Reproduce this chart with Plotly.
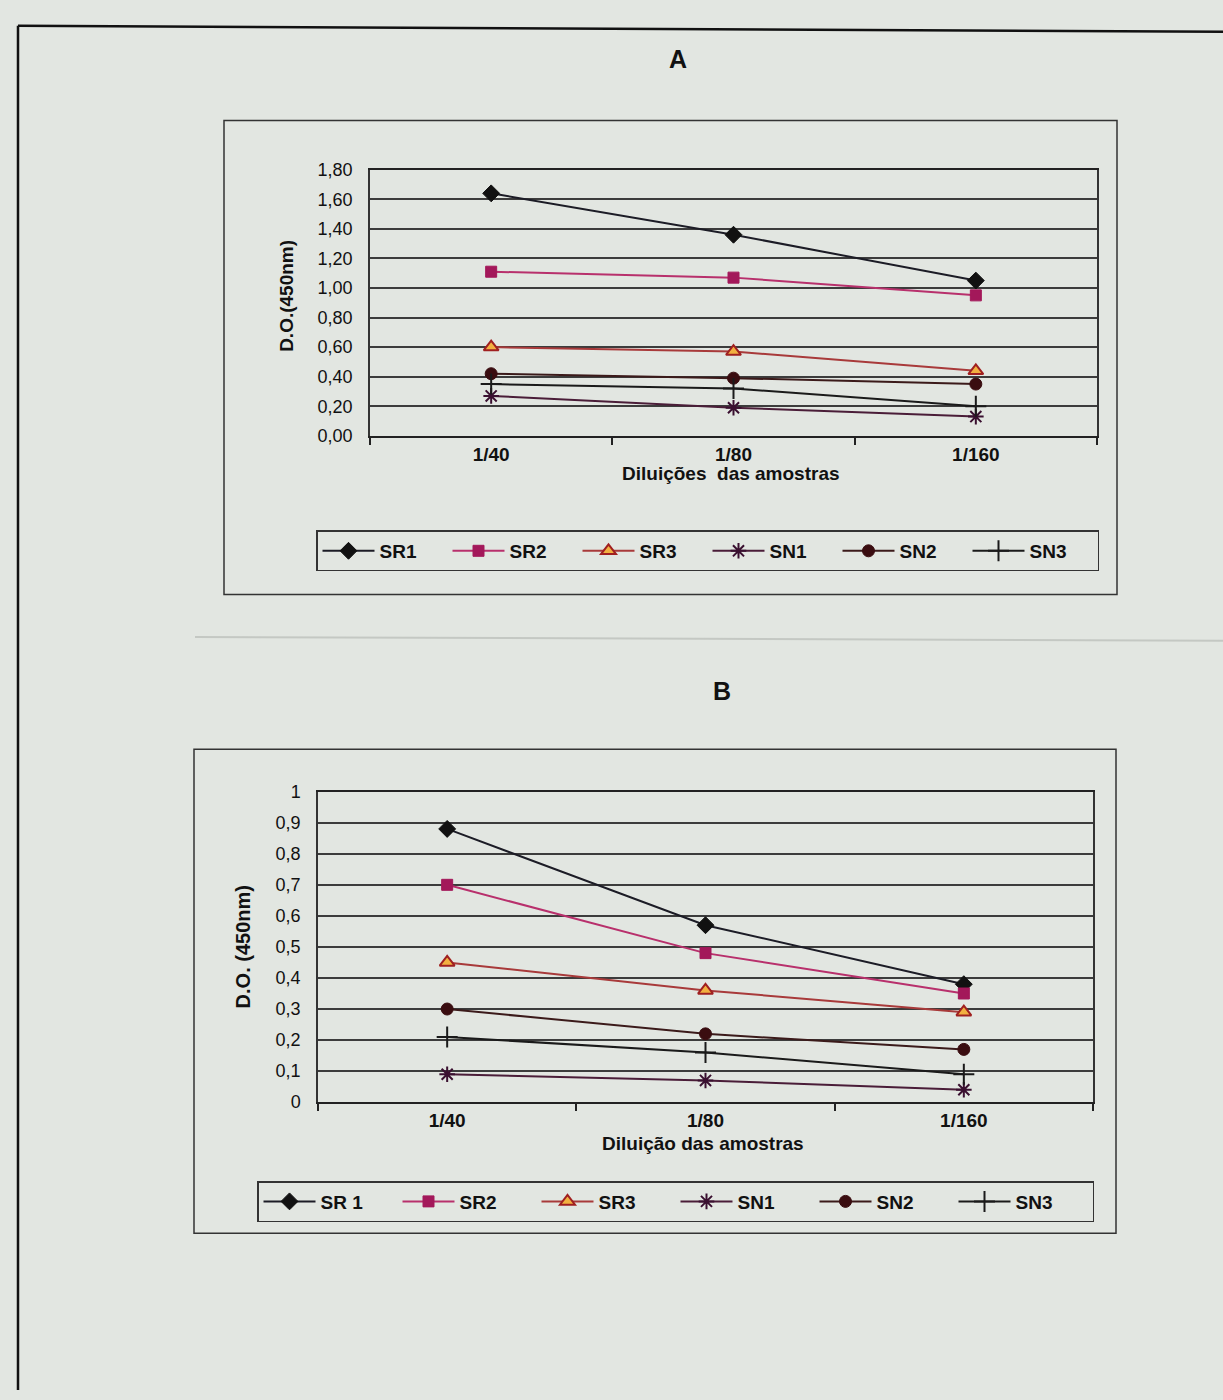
import plotly.graph_objects as go

# ---------------- data ----------------
categories = ["1/40", "1/80", "1/160"]

a_names = ["SR1", "SR2", "SR3", "SN1", "SN2", "SN3"]
a_sr1 = [1.64, 1.36, 1.05]
a_sr2 = [1.11, 1.07, 0.95]
a_sr3 = [0.60, 0.57, 0.44]
a_sn1 = [0.27, 0.19, 0.13]
a_sn2 = [0.42, 0.39, 0.35]
a_sn3 = [0.35, 0.32, 0.20]

b_names = ["SR 1", "SR2", "SR3", "SN1", "SN2", "SN3"]
b_sr1 = [0.88, 0.57, 0.38]
b_sr2 = [0.70, 0.48, 0.35]
b_sr3 = [0.45, 0.36, 0.29]
b_sn1 = [0.09, 0.07, 0.04]
b_sn2 = [0.30, 0.22, 0.17]
b_sn3 = [0.21, 0.16, 0.09]

a_yticks = [0.0, 0.2, 0.4, 0.6, 0.8, 1.0, 1.2, 1.4, 1.6, 1.8]
a_yticktext = ["0,00", "0,20", "0,40", "0,60", "0,80", "1,00", "1,20", "1,40", "1,60", "1,80"]
b_yticks = [0.0, 0.1, 0.2, 0.3, 0.4, 0.5, 0.6, 0.7, 0.8, 0.9, 1.0]
b_yticktext = ["0", "0,1", "0,2", "0,3", "0,4", "0,5", "0,6", "0,7", "0,8", "0,9", "1"]

# ---------------- styles ----------------
W, H = 1223, 1400
PAGE = "#e2e6e1"
FONT = "Liberation Sans Narrow, Arial Narrow, Liberation Sans, Arial, sans-serif"
BOLD = "Liberation Sans, Arial, sans-serif"


def px(x):
    return x / W


def py(y):
    return 1 - y / H


styles = [
    dict(line=dict(color="#1c1c26", width=2),
         marker=dict(symbol="diamond", size=13, color="#111111", line=dict(color="#111111", width=1))),
    dict(line=dict(color="#b8306c", width=2),
         marker=dict(symbol="square", size=11, color="#a3185a", line=dict(color="#a3185a", width=1))),
    dict(line=dict(color="#a83a3a", width=2),
         marker=dict(symbol="triangle-up", size=13, color="#f2b040", line=dict(color="#a02020", width=2))),
    dict(line=dict(color="#4a1d38", width=2),
         marker=dict(symbol="asterisk-open", size=13, color="#3a1030", line=dict(color="#3a1030", width=2))),
    dict(line=dict(color="#3b1a1a", width=2),
         marker=dict(symbol="circle", size=12, color="#3a0d10", line=dict(color="#3a0d10", width=1))),
    dict(line=dict(color="#1a1a1a", width=2),
         marker=dict(symbol="cross-thin-open", size=15, color="#1a1a1a", line=dict(color="#1a1a1a", width=2))),
]

fig = go.Figure()

a_series = [a_sr1, a_sr2, a_sr3, a_sn1, a_sn2, a_sn3]
b_series = [b_sr1, b_sr2, b_sr3, b_sn1, b_sn2, b_sn3]

for name, vals, st in zip(a_names, a_series, styles):
    fig.add_trace(go.Scatter(x=categories, y=vals, name=name, mode="lines+markers",
                             xaxis="x", yaxis="y", legend="legend", **st))
for name, vals, st in zip(b_names, b_series, styles):
    fig.add_trace(go.Scatter(x=categories, y=vals, name=name, mode="lines+markers",
                             xaxis="x2", yaxis="y2", legend="legend2", **st))

xaxis_common = dict(type="category", range=[-0.5, 2.5], tickson="boundaries", ticks="outside",
                    ticklen=7, tickcolor="#222", tickwidth=1.5, showline=True, linecolor="#222",
                    linewidth=2, mirror=True, showgrid=False, zeroline=False,
                    ticklabelstandoff=0,
                    tickfont=dict(family=BOLD, size=19, color="#111", weight="bold"))
yaxis_common = dict(showline=True, linecolor="#333", linewidth=1.5, mirror=True,
                    showgrid=True, gridcolor="#3c3c3c", gridwidth=1.5, zeroline=False,
                    ticks="", ticklabelstandoff=12,
                    tickfont=dict(family=FONT, size=18, color="#111"))

legend_common = dict(orientation="h", xanchor="left", yanchor="top",
                     bordercolor="#333", borderwidth=1.5, bgcolor="rgba(0,0,0,0)",
                     itemwidth=52, entrywidthmode="pixels",
                     font=dict(family=BOLD, size=19, color="#111", weight="bold"),
                     tracegroupgap=0, itemclick=False)

fig.update_layout(
    width=W, height=H,
    margin=dict(l=0, r=0, t=0, b=0),
    paper_bgcolor=PAGE, plot_bgcolor=PAGE,
    showlegend=True,
    xaxis=dict(domain=[px(370), px(1097)], anchor="y", **xaxis_common),
    yaxis=dict(domain=[py(432), py(162)], anchor="x", range=[0, 1.8],
               tickvals=a_yticks, ticktext=a_yticktext, **yaxis_common),
    xaxis2=dict(domain=[px(318), px(1093)], anchor="y2", **xaxis_common),
    yaxis2=dict(domain=[py(1108), py(793)], anchor="x2", range=[0, 1.0],
                tickvals=b_yticks, ticktext=b_yticktext, **yaxis_common),
    legend=dict(x=px(316), y=py(528), entrywidth=63, **legend_common),
    legend2=dict(x=px(257), y=py(1188), entrywidth=72, **legend_common),
)


def ann(text, x, y, size, angle=0):
    return dict(text=text, x=px(x), y=py(y), xref="paper", yref="paper", showarrow=False,
                xanchor="center", yanchor="middle", textangle=angle,
                font=dict(family=BOLD, size=size, color="#111"))


fig.update_layout(annotations=[
    ann("<b>A</b>", 678, 50, 25),
    ann("<b>B</b>", 722, 691, 25),
    ann("<b>D.O.(450nm)</b>", 287, 290, 19, -90),
    ann("<b>Diluições  das amostras</b>", 731, 470, 19),
    ann("<b>D.O. (450nm)</b>", 243, 951, 20, -90),
    ann("<b>Diluição das amostras</b>", 703, 1150, 19),
])


def pline(x0, y0, x1, y1, color, width):
    return dict(type="line", xref="paper", yref="paper", x0=px(x0), y0=py(y0), x1=px(x1), y1=py(y1),
                line=dict(color=color, width=width))


def prect(x0, y0, x1, y1, color, width):
    return dict(type="rect", xref="paper", yref="paper", x0=px(x0), y0=py(y0), x1=px(x1), y1=py(y1),
                line=dict(color=color, width=width))


fig.update_layout(shapes=[
    pline(18, 16, 1223, 22, "#111", 2.5),
    pline(18, 16, 18, 1400, "#111", 2.5),
    pline(195, 636, 1223, 640, "#c4c8c3", 2),
    prect(224, 112, 1117, 593, "#333", 1.5),
    prect(194, 750, 1116, 1241, "#333", 1.5),
])

fig.write_html("out.html")
